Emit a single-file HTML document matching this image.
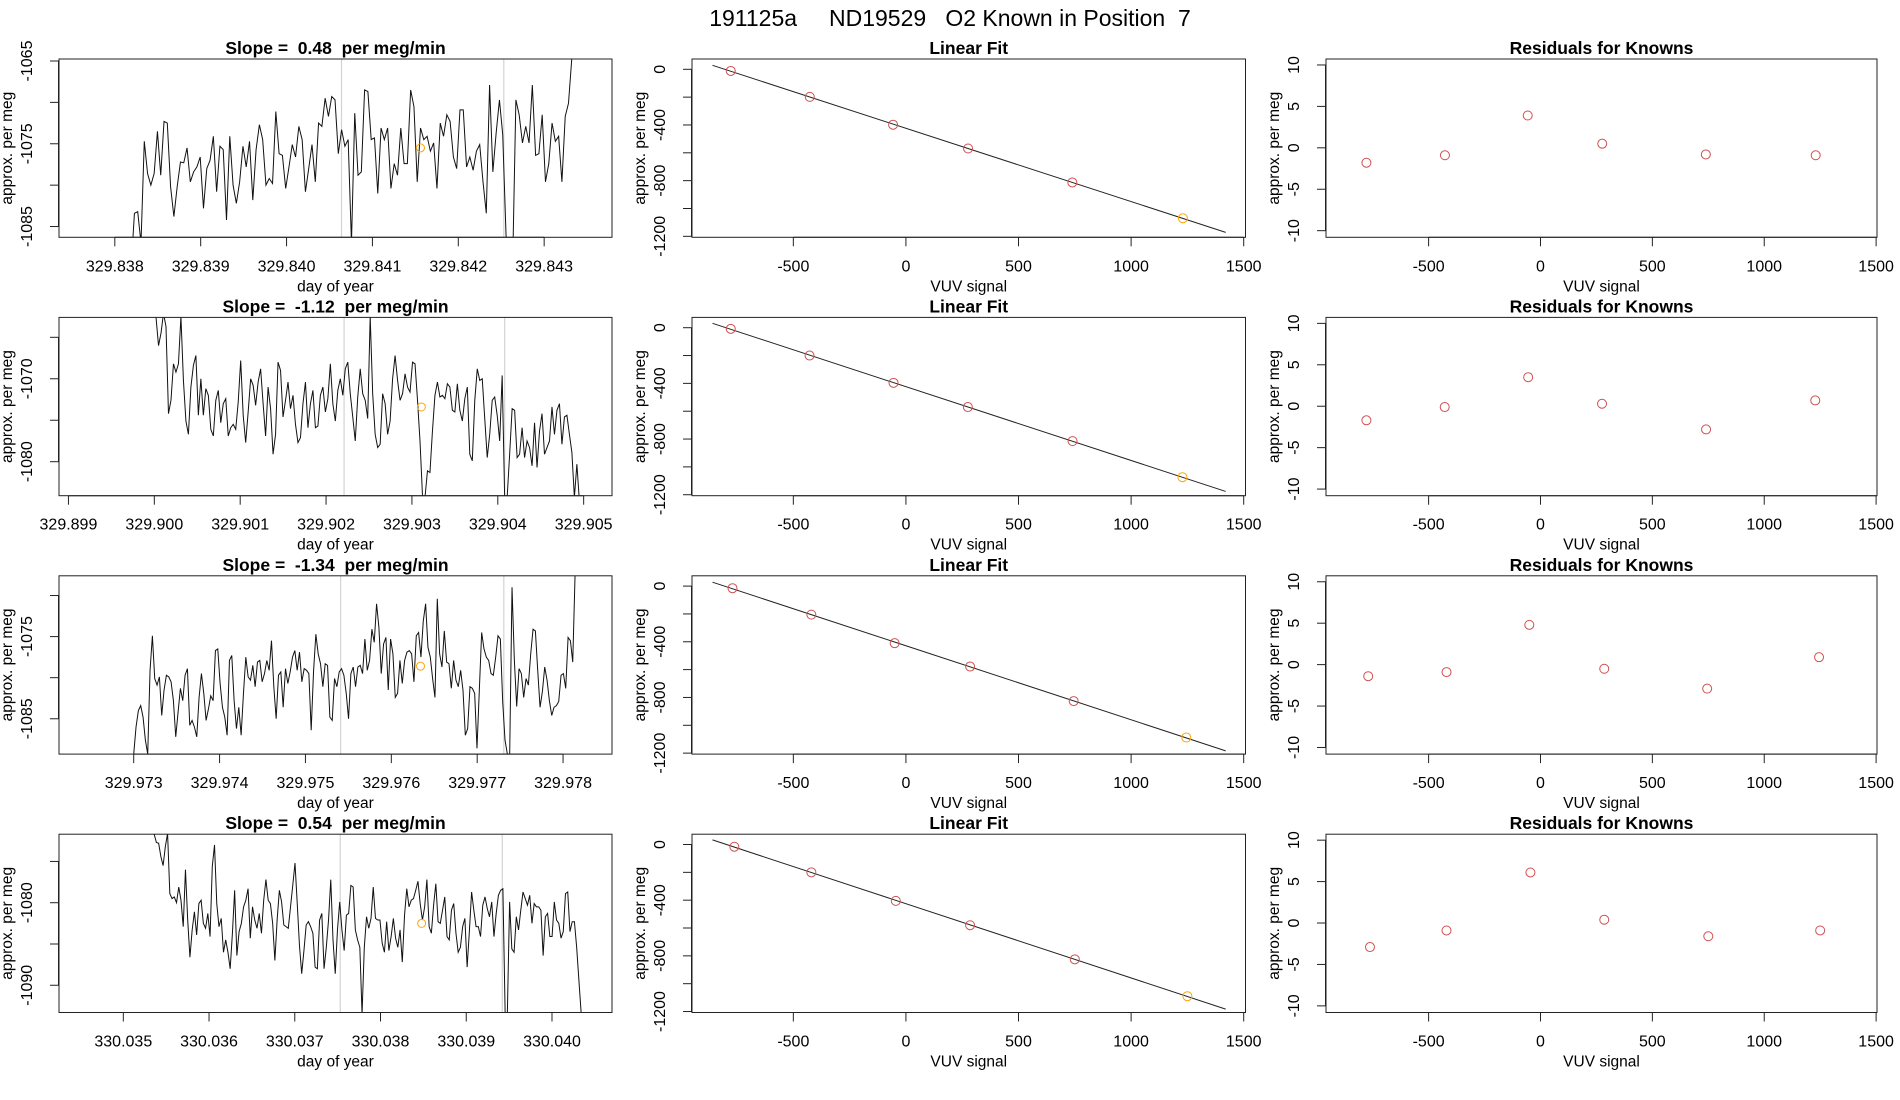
<!DOCTYPE html>
<html><head><meta charset="utf-8"><style>
body{margin:0;background:#fff}
svg{display:block;font-family:"Liberation Sans",Arial,sans-serif}
text{white-space:pre}
</style></head><body>
<svg id="chart" width="1900" height="1100" viewBox="0 0 1900 1100">
<text x="950" y="26" text-anchor="middle" font-size="23">191125a     ND19529   O2 Known in Position  7</text>
</svg>
<script>
// ---- Time series data (approx. per meg vs day of year) ----
const slopes = ["0.48", "-1.12", "-1.34", "0.54"];
const tsDayStart = [329.83819, 329.90002, 329.97300, 330.03536];
const tsDayEnd = [329.84336, 329.90495, 329.97814, 330.04034];
const tsValues1 = [-1090,-1083.4,-1083.2,-1087,-1074.7,-1078.6,-1080.0,-1078.6,-1073.5,-1078.8,-1072.3,-1072.5,-1080.2,-1083.8,-1080.2,-1077.2,-1077.3,-1075.5,-1079.6,-1078.4,-1077.8,-1076.6,-1082.8,-1078.0,-1077.0,-1074.1,-1080.8,-1075.3,-1075.7,-1084.2,-1074.1,-1080.0,-1082.2,-1079.6,-1075.3,-1077.8,-1074.7,-1081.8,-1075.7,-1072.7,-1074.5,-1080.0,-1079.2,-1079.8,-1071.1,-1076.2,-1076.4,-1080.4,-1077.8,-1075.1,-1076.6,-1072.9,-1074.5,-1080.8,-1078.0,-1075.1,-1079.6,-1072.5,-1072.9,-1069.5,-1071.7,-1069.3,-1069.7,-1076.2,-1073.3,-1075.3,-1074.5,-1087,-1071.3,-1078.8,-1078.4,-1068.5,-1068.7,-1074.5,-1074.3,-1081.0,-1073.1,-1074.5,-1073.1,-1080.4,-1077.4,-1078.8,-1073.1,-1077.4,-1077.4,-1068.5,-1070.5,-1079.6,-1073.1,-1074.5,-1074.1,-1075.9,-1074.9,-1080.4,-1072.5,-1074.1,-1071.5,-1072.3,-1076.6,-1078.0,-1070.9,-1070.9,-1077.8,-1076.6,-1078.2,-1075.9,-1075.1,-1079.6,-1083.4,-1067.9,-1078.4,-1073.7,-1069.7,-1073.9,-1086,-1090,-1090,-1069.7,-1071.5,-1074.9,-1072.9,-1074.9,-1067.9,-1076.4,-1076.2,-1071.5,-1079.6,-1077.4,-1072.5,-1074.7,-1074.1,-1079.6,-1071.7,-1070.1,-1064.7,-1061];
const tsValues2 = [-1062.6,-1066.0,-1064.5,-1062.1,-1063.7,-1074.2,-1072.6,-1068.2,-1069.2,-1068.2,-1062.5,-1070.2,-1075.1,-1076.7,-1071.0,-1068.4,-1067.2,-1074.4,-1070,-1074.4,-1071.2,-1072.0,-1076.1,-1076.9,-1072.6,-1071.4,-1075.3,-1073.0,-1072.4,-1076.9,-1075.9,-1075.5,-1076.1,-1072.8,-1067.8,-1074.4,-1077.7,-1074.0,-1070,-1070.8,-1073.2,-1070.4,-1068.8,-1073.0,-1076.9,-1071.0,-1073.6,-1079.1,-1076.7,-1068.0,-1069.0,-1074.6,-1072.6,-1070.4,-1073.6,-1072.0,-1075.5,-1077.7,-1077.1,-1073.0,-1070.4,-1075.9,-1073.0,-1071.4,-1075.9,-1075.7,-1072.0,-1071.0,-1074.0,-1072.4,-1068.2,-1073.0,-1075.1,-1071.4,-1070,-1072.0,-1068.8,-1068.0,-1071.8,-1074.6,-1077.5,-1072.2,-1068.8,-1071.8,-1072.6,-1074.8,-1062.5,-1071.8,-1076.7,-1078.3,-1077.9,-1071.8,-1073.0,-1076.7,-1075.1,-1070,-1067.2,-1070.2,-1072.6,-1071.8,-1069.4,-1071.0,-1071.6,-1068.0,-1068.2,-1072.6,-1077.5,-1084.1,-1084.3,-1081.1,-1081.3,-1076.3,-1072.0,-1070.4,-1072.2,-1072.0,-1072.4,-1070.6,-1071.0,-1073.8,-1074.0,-1070.6,-1073.8,-1075.1,-1072.4,-1071.0,-1079.1,-1079.9,-1072.6,-1068.8,-1070.2,-1070,-1074.8,-1079.5,-1076.7,-1072.6,-1072.2,-1074.4,-1077.5,-1069.6,-1084.3,-1084.3,-1079.1,-1073.6,-1073.8,-1079.5,-1079.1,-1075.9,-1079.5,-1077.5,-1078.3,-1080.5,-1075.3,-1080.7,-1076.3,-1074.2,-1079.1,-1078.3,-1077.5,-1073.4,-1076.7,-1073.8,-1073.0,-1077.9,-1074.6,-1074.4,-1076.7,-1078.9,-1084.3,-1080.3,-1084.7];
const tsValues3 = [-1089.3,-1086.0,-1084.0,-1083.4,-1084.8,-1087.6,-1089.3,-1079.1,-1074.9,-1080.1,-1080.9,-1079.9,-1084.6,-1081.5,-1079.7,-1079.9,-1080.5,-1082.8,-1087.2,-1084.2,-1081.3,-1082.8,-1079.7,-1078.9,-1085.8,-1085.2,-1086.0,-1087.2,-1082.4,-1079.5,-1081.9,-1085.2,-1083.8,-1082.2,-1082.8,-1076.7,-1076.5,-1080.7,-1083.6,-1084.8,-1087.0,-1077.9,-1077.3,-1082.8,-1086.2,-1083.6,-1087.0,-1081.9,-1077.5,-1079.9,-1080.3,-1078.5,-1081.1,-1078.1,-1077.9,-1080.5,-1079.5,-1077.9,-1079.1,-1075.5,-1081.1,-1085.0,-1079.7,-1079.3,-1083.6,-1078.9,-1080.7,-1079.3,-1077.5,-1076.7,-1079.1,-1076.9,-1080.5,-1078.9,-1079.1,-1079.5,-1086.4,-1079.3,-1074.7,-1077.1,-1078.3,-1081.1,-1078.3,-1078.5,-1084.8,-1085.2,-1080.1,-1081.1,-1079.3,-1078.9,-1079.7,-1081.9,-1085.0,-1079.5,-1078.7,-1081.1,-1078.7,-1078.5,-1079.5,-1075.3,-1079.1,-1077.9,-1074.1,-1075.7,-1071.0,-1073.9,-1079.5,-1075.9,-1075.1,-1081.5,-1075.3,-1077.1,-1082.4,-1081.9,-1077.9,-1080.7,-1077.9,-1076.9,-1076.7,-1077.1,-1080.5,-1074.9,-1074.5,-1077.5,-1073.1,-1071.0,-1076.3,-1077.5,-1080.1,-1082.4,-1070.4,-1077.1,-1078.7,-1074.3,-1078.1,-1078.3,-1081.3,-1077.9,-1080.3,-1081.1,-1079.1,-1081.5,-1087.0,-1086.2,-1081.1,-1081.3,-1081.9,-1088.6,-1081.5,-1074.5,-1076.5,-1077.5,-1077.9,-1079.5,-1079.7,-1077.5,-1074.9,-1075.3,-1082.9,-1087.6,-1089.3,-1089.3,-1069.0,-1077.9,-1083.5,-1078.9,-1079.5,-1082.4,-1080.1,-1080.9,-1077.1,-1074.1,-1074.3,-1079.1,-1083.6,-1081.7,-1078.7,-1080.3,-1082.8,-1084.6,-1083.6,-1083.4,-1082.9,-1079.7,-1079.5,-1081.3,-1075.1,-1075.5,-1078.1,-1067.4];
const tsValues4 = [-1071.7,-1072.7,-1072.8,-1074.4,-1075.5,-1073.2,-1071.6,-1078.9,-1079.5,-1079.3,-1080,-1078.1,-1079.7,-1082.9,-1076.0,-1082.1,-1086.6,-1083.3,-1081.1,-1083.9,-1080.1,-1079.7,-1082.5,-1083.1,-1081.3,-1084.1,-1075.6,-1073.0,-1080.1,-1082.9,-1081.9,-1086.0,-1084.5,-1086.0,-1088.0,-1083.7,-1078.5,-1086.4,-1083.5,-1082.5,-1080.5,-1079.7,-1078.3,-1084.3,-1080.5,-1082.1,-1083.1,-1081.3,-1083.7,-1079.7,-1077.2,-1079.7,-1080.1,-1082.5,-1087.0,-1082.1,-1078.5,-1079.9,-1082.7,-1082.9,-1083.1,-1080.5,-1077.9,-1075.2,-1080.1,-1085.2,-1088.6,-1085.8,-1082.7,-1082.3,-1082.9,-1083.7,-1087.8,-1088.0,-1082.1,-1081.3,-1088.0,-1085.4,-1082.1,-1077.2,-1084.5,-1088.6,-1083.3,-1079.9,-1083.3,-1085.8,-1081.5,-1081.3,-1077.9,-1078.1,-1083.3,-1084.5,-1085.4,-1093.5,-1085.4,-1081.7,-1083.1,-1081.9,-1078.1,-1081.9,-1082.1,-1082.1,-1084.9,-1086.0,-1082.3,-1085.8,-1084.1,-1081.9,-1084.3,-1085.4,-1083.3,-1087.2,-1081.5,-1078.3,-1080.5,-1079.7,-1079.5,-1078.5,-1077.4,-1080.1,-1082.1,-1080.5,-1077.2,-1082.9,-1083.7,-1080.3,-1077.7,-1082.3,-1082.5,-1080.9,-1079.3,-1084.1,-1084.5,-1080.9,-1080.1,-1083.7,-1086.0,-1085.4,-1082.9,-1081.9,-1087.8,-1083.5,-1078.7,-1080.9,-1082.9,-1082.9,-1084.1,-1080.3,-1079.3,-1080.7,-1081.7,-1079.9,-1084.1,-1081.3,-1079.1,-1078.5,-1078.3,-1093.3,-1093.3,-1079.9,-1085.6,-1086.0,-1081.7,-1083.3,-1080.9,-1078.7,-1079.5,-1080.3,-1079.1,-1082.5,-1080.1,-1080.5,-1080.5,-1080.9,-1086.4,-1081.7,-1081.3,-1084.1,-1084.1,-1079.9,-1082.1,-1082.5,-1084.3,-1083.5,-1078.9,-1078.7,-1083.5,-1082.3,-1082.3,-1085.4,-1089.4,-1093.3];
const tsSeries = [tsValues1, tsValues2, tsValues3, tsValues4];
const tsMarkDay = [329.84156, 329.90311, 329.97634, 330.03848];
const tsMarkVal = [-1075.5, -1073.4, -1078.6, -1082.5];
const tsVline1 = [329.84064, 329.90221, 329.97541, 330.03753];
const tsVline2 = [329.84253, 329.90408, 329.97731, 330.03942];
const tsXTicks1 = [329.838, 329.839, 329.840, 329.841, 329.842, 329.843];
const tsXTicks2 = [329.899, 329.900, 329.901, 329.902, 329.903, 329.904, 329.905];
const tsXTicks3 = [329.973, 329.974, 329.975, 329.976, 329.977, 329.978];
const tsXTicks4 = [330.035, 330.036, 330.037, 330.038, 330.039, 330.040];
const tsXTicks = [tsXTicks1, tsXTicks2, tsXTicks3, tsXTicks4];
const tsYTicks1 = [-1065, -1070, -1075, -1080, -1085];
const tsYTicks2 = [-1065, -1070, -1075, -1080];
const tsYTicks3 = [-1070, -1075, -1080, -1085];
const tsYTicks4 = [-1075, -1080, -1085, -1090];
const tsYTicks = [tsYTicks1, tsYTicks2, tsYTicks3, tsYTicks4];
const tsYLabels1 = [-1065, -1075, -1085];
const tsYLabels2 = [-1070, -1080];
const tsYLabels3 = [-1075, -1085];
const tsYLabels4 = [-1080, -1090];
const tsYLabels = [tsYLabels1, tsYLabels2, tsYLabels3, tsYLabels4];
const tsXDom = [[329.83735, 329.84379], [329.89889, 329.90533], [329.97213, 329.97857], [330.03425, 330.0407]];
const tsYDom = [[-1086.3, -1064.76], [-1084.1, -1062.6], [-1089.3, -1067.6], [-1093.3, -1071.7]];

// ---- Linear fit / residual data ----
const vuv1 = [-778, -427, -57, 276, 739, 1230];
const vuv2 = [-778, -428, -55, 275, 740, 1228];
const vuv3 = [-770, -420, -50, 285, 745, 1245];
const vuv4 = [-762, -420, -45, 285, 750, 1250];
const vuvSeries = [vuv1, vuv2, vuv3, vuv4];
const perMeg1 = [-12, -198, -398, -569, -813, -1070];
const perMeg2 = [-8, -200, -396, -570, -815, -1074];
const perMeg3 = [-15, -205, -410, -578, -826, -1088];
const perMeg4 = [-16, -200, -405, -580, -825, -1090];
const perMegSeries = [perMeg1, perMeg2, perMeg3, perMeg4];
const resid1 = [-1.8, -0.9, 3.9, 0.5, -0.8, -0.9];
const resid2 = [-1.7, -0.1, 3.5, 0.3, -2.8, 0.7];
const resid3 = [-1.4, -0.9, 4.8, -0.5, -2.9, 0.9];
const resid4 = [-2.9, -0.9, 6.1, 0.4, -1.6, -0.9];
const residSeries = [resid1, resid2, resid3, resid4];
const fitXTicks = [-500, 0, 500, 1000, 1500];
const fitYTicks = [0, -200, -400, -600, -800, -1000, -1200];
const fitYLabels = [0, -400, -800, -1200];
const resYTicks = [10, 5, 0, -5, -10];
const fitLineRange = [-859, 1420];
</script>
<script>
const NS = "http://www.w3.org/2000/svg";
const svg = document.getElementById('chart');
function mk(tag, attrs, parent) {
  const e = document.createElementNS(NS, tag);
  for (const k in attrs) e.setAttribute(k, attrs[k]);
  (parent || svg).appendChild(e);
  return e;
}
const cols = [[59, 612], [692, 1245.5], [1326, 1877]];
const rowTop0 = 59, rowStep = 258.4, boxH = 178.3;
function scale(d0, d1, r0, r1) { return v => r0 + (v - d0) / (d1 - d0) * (r1 - r0); }
function fmt3(v) { return v.toFixed(3); }

function frame(g, x0, x1, top, bot, title, xlab, name) {
  const b = mk('rect', {x: x0, y: top, width: x1 - x0, height: bot - top, fill: 'none', stroke: '#222', 'stroke-width': 1}, g);
  
  
  const t = mk('text', {x: (x0 + x1) / 2, y: top - 5, 'text-anchor': 'middle', 'font-size': 17.5, 'font-weight': 'bold'}, g);
  t.textContent = title;
  
  
  const xl = mk('text', {x: (x0 + x1) / 2, y: bot + 54, 'text-anchor': 'middle', 'font-size': 15.5}, g);
  xl.textContent = xlab;
  
  
  const yl = mk('text', {transform: `translate(${x0 - 47},${(top + bot) / 2}) rotate(-90)`, 'text-anchor': 'middle', 'font-size': 15.5}, g);
  yl.textContent = 'approx. per meg';
  
  
}
function xAxis(g, ticks, sx, bot, labelFn, name) {
  const x0 = sx(ticks[0]), x1 = sx(ticks[ticks.length - 1]);
  mk('line', {x1: x0, y1: bot, x2: x1, y2: bot, stroke: '#222'}, g);
  ticks.forEach(t => {
    const x = sx(t);
    const l = mk('line', {x1: x, y1: bot, x2: x, y2: bot + 9, stroke: '#222'}, g);
    
    
    const tx = mk('text', {x: x, y: bot + 34, 'text-anchor': 'middle', 'font-size': 16}, g);
    tx.textContent = labelFn(t);
    
    
  });
}
function yAxis(g, ticks, labels, sy, x0, name) {
  ticks.forEach(t => {
    const y = sy(t);
    const l = mk('line', {x1: x0 - 9, y1: y, x2: x0, y2: y, stroke: '#222'}, g);
    
    
  });
  mk('line', {x1: x0 - 0.5, y1: sy(ticks[0]), x2: x0 - 0.5, y2: sy(ticks[ticks.length - 1]), stroke: '#222'}, g);
  labels.forEach(t => {
    const y = sy(t);
    const tx = mk('text', {transform: `translate(${x0 - 27},${y}) rotate(-90)`, 'text-anchor': 'middle', 'font-size': 16}, g);
    tx.textContent = String(t);
    
    
  });
}

const defs = mk('defs', {});
for (let r = 0; r < 4; r++) {
  const top = rowTop0 + r * rowStep, bot = top + boxH;
  // ---------- time series panel ----------
  {
    const [x0, x1] = cols[0];
    const name = 'drift-panel-' + (r + 1);
    const g = mk('g', {});
    
    
    const sx = scale(tsXDom[r][0], tsXDom[r][1], x0, x1);
    const sy = scale(tsYDom[r][0], tsYDom[r][1], bot, top);
    const cp = mk('clipPath', {id: 'clip' + r}, defs);
    mk('rect', {x: x0, y: top, width: x1 - x0, height: bot - top}, cp);
    [tsVline1[r], tsVline2[r]].forEach(d => {
      const l = mk('line', {x1: sx(d), y1: top, x2: sx(d), y2: bot, stroke: '#d3d3d3', 'stroke-width': 1.2}, g);
      
      
    });
    const vals = tsSeries[r];
    const n = vals.length;
    const step = (tsDayEnd[r] - tsDayStart[r]) / (n - 1);
    const pts = vals.map((v, i) => sx(tsDayStart[r] + i * step).toFixed(2) + ',' + sy(v).toFixed(2)).join(' ');
    const pl = mk('polyline', {points: pts, fill: 'none', stroke: '#111', 'stroke-width': 1, 'clip-path': `url(#clip${r})`}, g);
    
    
    const c = mk('circle', {cx: sx(tsMarkDay[r]), cy: sy(tsMarkVal[r]), r: 4, fill: 'none', stroke: '#FFA500', 'stroke-width': 1}, g);
    
    
    frame(g, x0, x1, top, bot, 'Slope =  ' + slopes[r] + '  per meg/min', 'day of year', name);
    xAxis(g, tsXTicks[r], sx, bot, fmt3, name);
    yAxis(g, tsYTicks[r], tsYLabels[r], sy, x0, name);
  }
  // ---------- linear fit panel ----------
  {
    const [x0, x1] = cols[1];
    const name = 'linear-fit-panel-' + (r + 1);
    const g = mk('g', {});
    
    
    const sx = scale(-950, 1508, x0, x1);
    const sy = scale(-1207, 74, bot, top);
    const xs = vuvSeries[r], ys = perMegSeries[r];
    const n = xs.length;
    const mx = xs.reduce((a, b) => a + b, 0) / n, my = ys.reduce((a, b) => a + b, 0) / n;
    let sxy = 0, sxx = 0;
    for (let i = 0; i < n; i++) { sxy += (xs[i] - mx) * (ys[i] - my); sxx += (xs[i] - mx) ** 2; }
    const b = sxy / sxx, a = my - b * mx;
    const ln = mk('line', {x1: sx(fitLineRange[0]), y1: sy(a + b * fitLineRange[0]), x2: sx(fitLineRange[1]), y2: sy(a + b * fitLineRange[1]), stroke: '#222', 'stroke-width': 1}, g);
    
    
    xs.forEach((v, i) => {
      const c = mk('circle', {cx: sx(v), cy: sy(ys[i]), r: 4.5, fill: 'none', stroke: i === n - 1 ? '#FFA500' : '#D05050', 'stroke-width': 1}, g);
      
      
    });
    frame(g, x0, x1, top, bot, 'Linear Fit', 'VUV signal', name);
    xAxis(g, fitXTicks, sx, bot, String, name);
    yAxis(g, fitYTicks, fitYLabels, sy, x0, name);
  }
  // ---------- residuals panel ----------
  {
    const [x0, x1] = cols[2];
    const name = 'residuals-panel-' + (r + 1);
    const g = mk('g', {});
    
    
    const sx = scale(-958.6, 1504, x0, x1);
    const sy = scale(-10.8, 10.72, bot, top);
    const xs = vuvSeries[r], ys = residSeries[r];
    xs.forEach((v, i) => {
      const c = mk('circle', {cx: sx(v), cy: sy(ys[i]), r: 4.5, fill: 'none', stroke: '#D05050', 'stroke-width': 1}, g);
      
      
    });
    frame(g, x0, x1, top, bot, 'Residuals for Knowns', 'VUV signal', name);
    xAxis(g, fitXTicks, sx, bot, String, name);
    yAxis(g, resYTicks, resYTicks, sy, x0, name);
  }
}
</script>
</body></html>
